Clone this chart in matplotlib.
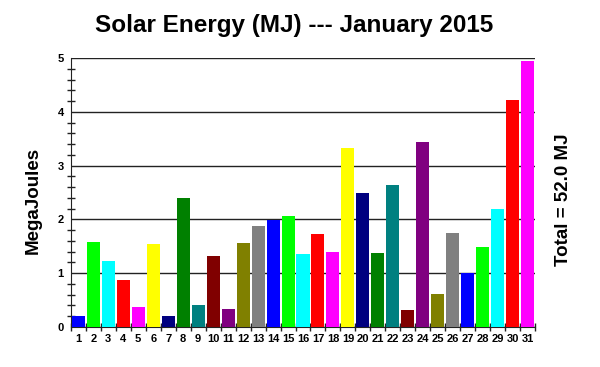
import matplotlib.pyplot as plt
from matplotlib.ticker import MultipleLocator

days = list(range(1, 32))
energy = [0.21, 1.58, 1.23, 0.87, 0.37, 1.54, 0.21, 2.40, 0.41, 1.32, 0.33,
          1.57, 1.87, 1.98, 2.06, 1.35, 1.73, 1.40, 3.33, 2.49, 1.38, 2.64,
          0.31, 3.44, 0.62, 1.75, 1.00, 1.48, 2.20, 4.21, 4.95]
palette = ["#0000ff", "#00ff00", "#00ffff", "#ff0000", "#ff00ff", "#ffff00",
           "#000080", "#008000", "#008080", "#800000", "#800080", "#808000",
           "#808080"]
total_label = "Total = 52.0 MJ"

plt.rcParams['font.family'] = ['Liberation Sans', 'DejaVu Sans']

fig = plt.figure(figsize=(6, 3.67), dpi=100)
ax = fig.add_axes([0.118, 0.109, 0.774, 0.733])

colors = [palette[i % len(palette)] for i in range(len(days))]
ax.bar(days, energy, width=0.87, color=colors, zorder=3)

ax.set_xlim(0.5, 31.5)
ax.set_ylim(0, 5)
ax.yaxis.set_major_locator(MultipleLocator(1))
ax.yaxis.set_minor_locator(MultipleLocator(0.2))
ax.grid(axis='y', which='major', color='#222222', linewidth=1.0, zorder=1)

ax.set_xticks(days)
ax.set_xticklabels([str(d) for d in days], fontsize=8, fontweight='bold')
ax.set_xticks([d + 0.5 for d in days[:-1]] + [0.5, 31.5], minor=True)
ax.tick_params(axis='x', which='major', length=0, pad=5)
ax.tick_params(axis='x', which='minor', length=6, width=1, direction='inout', color='#222222')
ax.tick_params(axis='y', which='both', direction='inout', color='#222222')
ax.tick_params(axis='y', which='major', length=0, labelsize=8, pad=5)
ax.tick_params(axis='y', which='minor', length=6, width=1)
for lbl in ax.get_yticklabels():
    lbl.set_fontweight('bold')

for side in ['top', 'right']:
    ax.spines[side].set_visible(False)
ax.spines['left'].set_color('#222222')
ax.spines['bottom'].set_color('#222222')

fig.text(0.055, 0.455, "MegaJoules", rotation=90, ha='center', va='center',
         fontsize=13.5, fontweight='bold')
fig.text(0.49, 0.93, "Solar Energy (MJ) --- January 2015", ha='center', va='center',
         fontsize=17.5, fontweight='bold')
fig.text(0.94, 0.455, total_label, rotation=90, ha='center', va='center',
         fontsize=13.5, fontweight='bold')

fig.savefig("out.png", dpi=100)
